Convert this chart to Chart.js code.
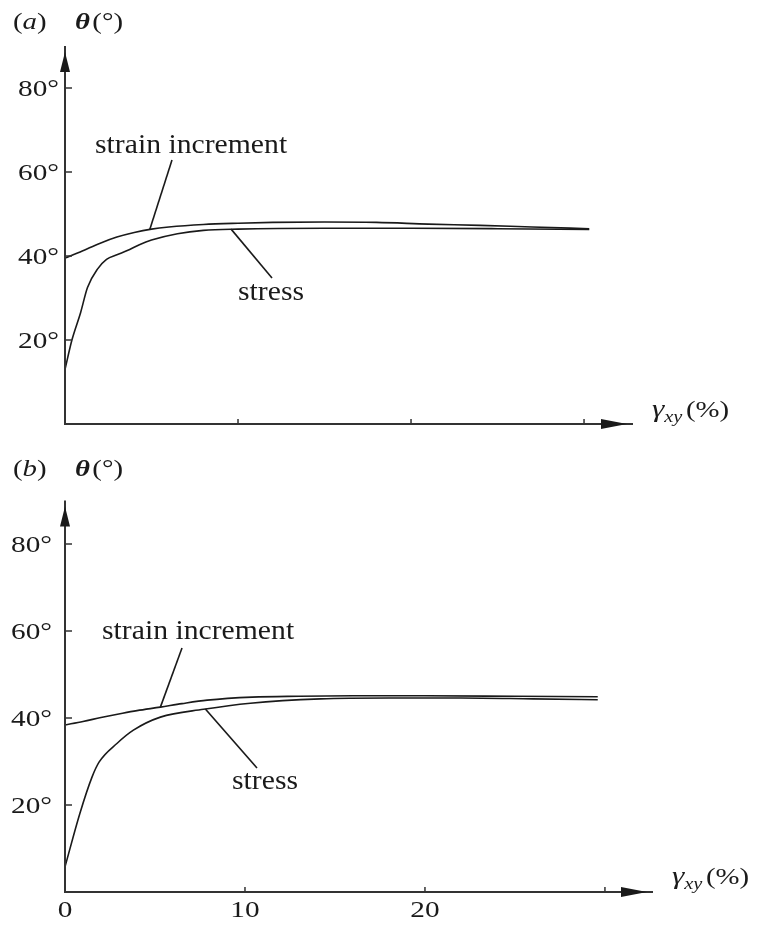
<!DOCTYPE html>
<html>
<head>
<meta charset="utf-8">
<script src="https://cdn.jsdelivr.net/npm/chart.js@4.4.1/dist/chart.umd.min.js"></script>
<style>
  body { margin: 0; background: #fff; }
  #page { position: relative; width: 758px; height: 926px; }
  .panel { position: absolute; left: 0; width: 758px; }
  #panelA { top: 0; height: 445px; }
  #panelB { top: 445px; height: 481px; }
</style>
</head>
<body>
<div id="page">
  <div class="panel" id="panelA"><canvas id="chartA"></canvas></div>
  <div class="panel" id="panelB"><canvas id="chartB"></canvas></div>
</div>
<script>
// panel (a): shear strain (%) against direction angle (deg)
const gammaA_strainInc = [0, 1, 2, 3, 4, 5, 6, 8, 10, 12, 15, 18, 21, 24, 27, 30.3];
const thetaA_strainInc = [39.5, 41.2, 43.0, 44.5, 45.6, 46.4, 46.9, 47.5, 47.8, 48.0, 48.1, 48.0, 47.6, 47.3, 46.9, 46.5];

const gammaA_stress = [0, 0.4, 0.9, 1.3, 1.9, 2.4, 3, 3.6, 4.3, 5, 6.5, 8, 10, 15, 20, 25, 30.3];
const thetaA_stress = [13, 20, 26.5, 32.5, 37, 39.2, 40.3, 41.3, 42.7, 43.8, 45.3, 46.1, 46.4, 46.6, 46.6, 46.5, 46.3];

// panel (b)
const gammaB_strainInc = [0, 1, 2, 3.2, 4, 5.3, 6.5, 7.9, 10.4, 13, 16, 20, 25, 29.6];
const thetaB_strainInc = [38.4, 39.2, 40.1, 41.1, 41.7, 42.5, 43.3, 44.1, 44.8, 45.0, 45.1, 45.1, 45.0, 44.9];

const gammaB_stress = [0, 0.83, 1.5, 1.9, 2.9, 3.8, 5.3, 7.7, 10.3, 14.2, 18, 22, 26, 29.6];
const thetaB_stress = [5.8, 18.1, 26.4, 29.9, 34.2, 37.2, 40.2, 42, 43.4, 44.4, 44.6, 44.6, 44.4, 44.2];

// axis ticks
const thetaTicks = [20, 40, 60, 80];
const gammaTicks = [10, 20, 30];
const gammaTickLabelsB = [0, 10, 20];

const SERIF = '"Liberation Serif", "Times New Roman", serif';
const INK = '#1a1a1a';

function toPoints(xs, ys) {
  return xs.map((x, i) => ({ x: x, y: ys[i] }));
}

// text is drawn a bit wider than tall, like the printed figure
function stretchText(ctx, text, x, y, font, align, sx) {
  ctx.save();
  ctx.font = font;
  ctx.textAlign = align;
  ctx.textBaseline = 'middle';
  ctx.translate(x, y);
  ctx.scale(sx, 1);
  ctx.fillText(text, 0, 0);
  ctx.restore();
}

function textRuns(ctx, runs, x, y, sx) {
  ctx.save();
  ctx.translate(x, y);
  ctx.scale(sx, 1);
  ctx.textAlign = 'left';
  ctx.textBaseline = 'alphabetic';
  let cx = 0;
  runs.forEach(r => {
    ctx.font = r.font;
    ctx.fillText(r.text, cx, r.dy || 0);
    cx += ctx.measureText(r.text).width + (r.gap || 0);
  });
  ctx.restore();
}

/* =====================================
   axes, arrows, labels, leader lines
===================================== */

const figurePlugin = {
  id: 'figure',
  afterDatasetsDraw(chart, args, opts) {
    const ctx = chart.ctx;
    const xs = chart.scales.x;
    const ys = chart.scales.y;
    const x0 = xs.getPixelForValue(0);
    const y0 = ys.getPixelForValue(0);
    const top = chart.chartArea.top;
    const right = chart.chartArea.right;

    ctx.save();
    ctx.fillStyle = INK;
    ctx.strokeStyle = '#333';

    // axis lines
    ctx.lineWidth = 2;
    ctx.beginPath();
    ctx.moveTo(x0, y0);
    ctx.lineTo(x0, top);
    ctx.moveTo(x0 - 1, y0);
    ctx.lineTo(right, y0);
    ctx.stroke();

    // arrow heads
    ctx.beginPath();
    ctx.moveTo(x0, top + 6);
    ctx.lineTo(x0 - 5, top + 26);
    ctx.lineTo(x0 + 5, top + 26);
    ctx.closePath();
    ctx.fill();

    ctx.beginPath();
    ctx.moveTo(right - 6, y0);
    ctx.lineTo(right - 32, y0 - 5);
    ctx.lineTo(right - 32, y0 + 5);
    ctx.closePath();
    ctx.fill();

    // tick marks point inwards
    ctx.lineWidth = 1.5;
    ctx.beginPath();
    thetaTicks.forEach(v => {
      const py = ys.getPixelForValue(v);
      ctx.moveTo(x0, py);
      ctx.lineTo(x0 + 7, py);
    });
    gammaTicks.forEach(v => {
      const px = xs.getPixelForValue(v);
      ctx.moveTo(px, y0);
      ctx.lineTo(px, y0 - 5);
    });
    ctx.stroke();

    // tick labels
    thetaTicks.forEach(v => {
      stretchText(ctx, v + '°', x0 - opts.yLabelGap, ys.getPixelForValue(v) + 2,
        '24px ' + SERIF, 'right', 1.22);
    });
    (opts.xLabels || []).forEach(v => {
      stretchText(ctx, String(v), xs.getPixelForValue(v), y0 + 19,
        '24px ' + SERIF, 'center', 1.22);
    });

    // panel letter and axis titles
    textRuns(ctx, [
      { text: '(', font: '24px ' + SERIF },
      { text: opts.letter, font: 'italic 24px ' + SERIF },
      { text: ')', font: '24px ' + SERIF }
    ], 13, opts.titleY, 1.2);

    textRuns(ctx, [
      { text: 'θ', font: 'bold italic 24px ' + SERIF, gap: 2 },
      { text: '(°)', font: '24px ' + SERIF }
    ], 75, opts.titleY, 1.2);

    textRuns(ctx, [
      { text: 'γ', font: 'italic 26px ' + SERIF },
      { text: 'xy', font: 'italic 17px ' + SERIF, dy: 5, gap: 3 },
      { text: '(%)', font: '24px ' + SERIF }
    ], right + 19, y0 - opts.gammaTitleLift, 1.2);

    // curve names with leader lines
    ctx.strokeStyle = INK;
    ctx.lineWidth = 1.6;
    opts.notes.forEach(n => {
      textRuns(ctx, [{ text: n.text, font: '27px ' + SERIF }], n.x, n.y, 1.1);
      ctx.beginPath();
      ctx.moveTo(n.lx, n.ly);
      ctx.lineTo(xs.getPixelForValue(n.at[0]), ys.getPixelForValue(n.at[1]));
      ctx.stroke();
    });

    ctx.restore();
  }
};

function curve(xs, ys) {
  return {
    data: toPoints(xs, ys),
    borderColor: INK,
    borderWidth: 1.6,
    pointRadius: 0,
    fill: false,
    tension: 0.3,
    cubicInterpolationMode: 'monotone'
  };
}

function makePanel(canvasId, datasets, xMax, padding, figureOpts) {
  return new Chart(document.getElementById(canvasId), {
    type: 'line',
    data: { datasets: datasets },
    options: {
      responsive: true,
      maintainAspectRatio: false,
      animation: false,
      layout: { padding: padding },
      plugins: {
        legend: { display: false },
        tooltip: { enabled: false },
        figure: figureOpts
      },
      scales: {
        x: { type: 'linear', min: 0, max: xMax, display: false },
        y: { min: 0, max: 90, display: false }
      }
    },
    plugins: [figurePlugin]
  });
}

const chartA = makePanel('chartA',
  [curve(gammaA_strainInc, thetaA_strainInc), curve(gammaA_stress, thetaA_stress)],
  32.83,
  { left: 65, right: 125, top: 46, bottom: 21 },
  {
    letter: 'a',
    titleY: 29,
    yLabelGap: 6,
    gammaTitleLift: 7,
    xLabels: [],
    notes: [
      { text: 'strain increment', x: 95, y: 153, lx: 172, ly: 160, at: [4.9, 46.3] },
      { text: 'stress', x: 238, y: 300, lx: 272, ly: 278, at: [9.6, 46.4] }
    ]
  }
);

const chartB = makePanel('chartB',
  [curve(gammaB_strainInc, thetaB_strainInc), curve(gammaB_stress, thetaB_stress)],
  32.67,
  { left: 65, right: 105, top: 55.5, bottom: 34 },
  {
    letter: 'b',
    titleY: 31,
    yLabelGap: 13,
    gammaTitleLift: 8,
    xLabels: gammaTickLabelsB,
    notes: [
      { text: 'strain increment', x: 102, y: 194, lx: 182, ly: 203, at: [5.3, 42.5] },
      { text: 'stress', x: 232, y: 344, lx: 257, ly: 323, at: [7.8, 42.05] }
    ]
  }
);
</script>
</body>
</html>
